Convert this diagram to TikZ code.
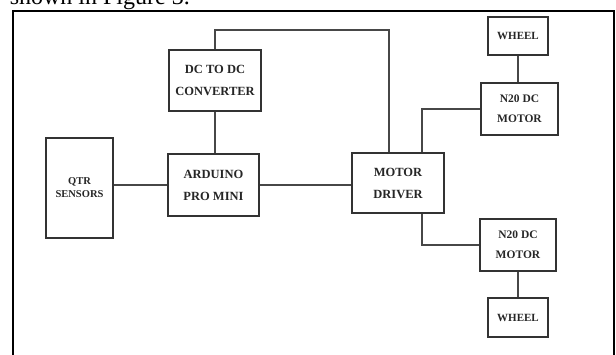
\documentclass[tikz,border=0pt]{standalone}
\usepackage{fontspec}
\setmainfont{Liberation Serif}
\begin{document}
\begin{tikzpicture}[x=1pt,y=-1pt,
  blk/.style={draw=black!80, line width=1.5pt, rectangle, inner sep=0pt, align=center,
    font=\fontsize{12.5}{22}\selectfont\bfseries, text=black!85},
  wire/.style={draw=black!72, line width=1.5pt},
  frame/.style={draw=black, line width=1.8pt}]
\useasboundingbox (0,0) rectangle (616,354);
\clip (0,0) rectangle (616,354);
% caption text cut at the top
\node[anchor=base east, inner sep=0pt, font=\fontsize{24}{28}\selectfont] (cap) at (190,4) {shown in Figure 3.};
% frame
\draw[frame] (13,360) -- (13,11) -- (614,11) -- (614,360);
% blocks
\node[blk, minimum width=92pt, minimum height=61pt] (dc) at (215,80.5) {DC TO DC\\CONVERTER};
\node[blk, minimum width=91pt, minimum height=62pt] (ard) at (213.5,185) {ARDUINO\\PRO MINI};
\node[blk, minimum width=67pt, minimum height=100pt, font=\fontsize{10.5}{13}\selectfont\bfseries] (qtr) at (79.5,188) {QTR\\SENSORS};
\node[blk, minimum width=92pt, minimum height=60pt] (md) at (398,183) {MOTOR\\DRIVER};
\node[blk, minimum width=77pt, minimum height=52pt, font=\fontsize{11.5}{20}\selectfont\bfseries] (na) at (519.5,109) {N20 DC\\MOTOR};
\node[blk, minimum width=76pt, minimum height=52pt, font=\fontsize{11.5}{20}\selectfont\bfseries] (nb) at (518,245) {N20 DC\\MOTOR};
\node[blk, minimum width=60pt, minimum height=38pt, font=\fontsize{11}{13}\selectfont\bfseries] (wa) at (518,36) {WHEEL};
\node[blk, minimum width=60pt, minimum height=39pt, font=\fontsize{11}{13}\selectfont\bfseries] (wb) at (518,317.5) {WHEEL};
% junction coordinates
\coordinate (t) at (389,30);
\coordinate (j) at (422,0);
% wires
\draw[wire] (dc.north) |- (t) -- (t |- md.north);
\draw[wire] (dc.south) -- (dc.south |- ard.north);
\draw[wire] (ard.west -| qtr.east) -- (ard.west);
\draw[wire] (ard.east) -- (ard.east -| md.west);
\draw[wire] (md.north -| j) |- (na.west);
\draw[wire] (md.south -| j) |- (nb.west);
\draw[wire] (wa.south) -- (wa.south |- na.north);
\draw[wire] (nb.south) -- (nb.south |- wb.north);
\end{tikzpicture}
\end{document}
